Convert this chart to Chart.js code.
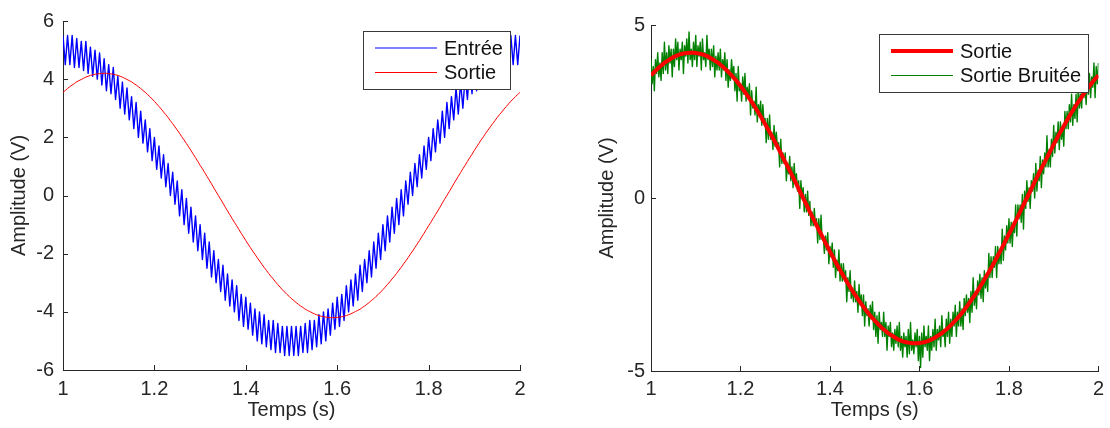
<!DOCTYPE html>
<html>
<head>
<meta charset="utf-8">
<script src="https://cdn.jsdelivr.net/npm/chart.js@4/dist/chart.umd.min.js"></script>
<style>
html, body { margin: 0; padding: 0; background: #fff; }
#wrap { position: relative; width: 1110px; height: 428px; }
canvas { position: absolute; top: 0; }
#gauche { left: 0; }
#droite { left: 580px; }
</style>
</head>
<body>
<div id="wrap">
<canvas id="gauche" width="580" height="428"></canvas>
<canvas id="droite" width="530" height="428"></canvas>
</div>
<script>
// temps (s)
const temps = [
1,1.005,1.01,1.015,1.02,1.025,1.03,1.035,1.04,1.045,1.05,1.055,1.06,1.065,1.07,1.075,1.08,1.085,1.09,1.095,
1.1,1.105,1.11,1.115,1.12,1.125,1.13,1.135,1.14,1.145,1.15,1.155,1.16,1.165,1.17,1.175,1.18,1.185,1.19,1.195,
1.2,1.205,1.21,1.215,1.22,1.225,1.23,1.235,1.24,1.245,1.25,1.255,1.26,1.265,1.27,1.275,1.28,1.285,1.29,1.295,
1.3,1.305,1.31,1.315,1.32,1.325,1.33,1.335,1.34,1.345,1.35,1.355,1.36,1.365,1.37,1.375,1.38,1.385,1.39,1.395,
1.4,1.405,1.41,1.415,1.42,1.425,1.43,1.435,1.44,1.445,1.45,1.455,1.46,1.465,1.47,1.475,1.48,1.485,1.49,1.495,
1.5,1.505,1.51,1.515,1.52,1.525,1.53,1.535,1.54,1.545,1.55,1.555,1.56,1.565,1.57,1.575,1.58,1.585,1.59,1.595,
1.6,1.605,1.61,1.615,1.62,1.625,1.63,1.635,1.64,1.645,1.65,1.655,1.66,1.665,1.67,1.675,1.68,1.685,1.69,1.695,
1.7,1.705,1.71,1.715,1.72,1.725,1.73,1.735,1.74,1.745,1.75,1.755,1.76,1.765,1.77,1.775,1.78,1.785,1.79,1.795,
1.8,1.805,1.81,1.815,1.82,1.825,1.83,1.835,1.84,1.845,1.85,1.855,1.86,1.865,1.87,1.875,1.88,1.885,1.89,1.895,
1.9,1.905,1.91,1.915,1.92,1.925,1.93,1.935,1.94,1.945,1.95,1.955,1.96,1.965,1.97,1.975,1.98,1.985,1.99,1.995,
2
];

// temps (s) du signal bruité, échantillonné plus finement
const tempsBruit = [
1,1.0025,1.005,1.0075,1.01,1.0125,1.015,1.0175,1.02,1.0225,1.025,1.0275,1.03,1.0325,1.035,1.0375,1.04,1.0425,1.045,1.0475,
1.05,1.0525,1.055,1.0575,1.06,1.0625,1.065,1.0675,1.07,1.0725,1.075,1.0775,1.08,1.0825,1.085,1.0875,1.09,1.0925,1.095,1.0975,
1.1,1.1025,1.105,1.1075,1.11,1.1125,1.115,1.1175,1.12,1.1225,1.125,1.1275,1.13,1.1325,1.135,1.1375,1.14,1.1425,1.145,1.1475,
1.15,1.1525,1.155,1.1575,1.16,1.1625,1.165,1.1675,1.17,1.1725,1.175,1.1775,1.18,1.1825,1.185,1.1875,1.19,1.1925,1.195,1.1975,
1.2,1.2025,1.205,1.2075,1.21,1.2125,1.215,1.2175,1.22,1.2225,1.225,1.2275,1.23,1.2325,1.235,1.2375,1.24,1.2425,1.245,1.2475,
1.25,1.2525,1.255,1.2575,1.26,1.2625,1.265,1.2675,1.27,1.2725,1.275,1.2775,1.28,1.2825,1.285,1.2875,1.29,1.2925,1.295,1.2975,
1.3,1.3025,1.305,1.3075,1.31,1.3125,1.315,1.3175,1.32,1.3225,1.325,1.3275,1.33,1.3325,1.335,1.3375,1.34,1.3425,1.345,1.3475,
1.35,1.3525,1.355,1.3575,1.36,1.3625,1.365,1.3675,1.37,1.3725,1.375,1.3775,1.38,1.3825,1.385,1.3875,1.39,1.3925,1.395,1.3975,
1.4,1.4025,1.405,1.4075,1.41,1.4125,1.415,1.4175,1.42,1.4225,1.425,1.4275,1.43,1.4325,1.435,1.4375,1.44,1.4425,1.445,1.4475,
1.45,1.4525,1.455,1.4575,1.46,1.4625,1.465,1.4675,1.47,1.4725,1.475,1.4775,1.48,1.4825,1.485,1.4875,1.49,1.4925,1.495,1.4975,
1.5,1.5025,1.505,1.5075,1.51,1.5125,1.515,1.5175,1.52,1.5225,1.525,1.5275,1.53,1.5325,1.535,1.5375,1.54,1.5425,1.545,1.5475,
1.55,1.5525,1.555,1.5575,1.56,1.5625,1.565,1.5675,1.57,1.5725,1.575,1.5775,1.58,1.5825,1.585,1.5875,1.59,1.5925,1.595,1.5975,
1.6,1.6025,1.605,1.6075,1.61,1.6125,1.615,1.6175,1.62,1.6225,1.625,1.6275,1.63,1.6325,1.635,1.6375,1.64,1.6425,1.645,1.6475,
1.65,1.6525,1.655,1.6575,1.66,1.6625,1.665,1.6675,1.67,1.6725,1.675,1.6775,1.68,1.6825,1.685,1.6875,1.69,1.6925,1.695,1.6975,
1.7,1.7025,1.705,1.7075,1.71,1.7125,1.715,1.7175,1.72,1.7225,1.725,1.7275,1.73,1.7325,1.735,1.7375,1.74,1.7425,1.745,1.7475,
1.75,1.7525,1.755,1.7575,1.76,1.7625,1.765,1.7675,1.77,1.7725,1.775,1.7775,1.78,1.7825,1.785,1.7875,1.79,1.7925,1.795,1.7975,
1.8,1.8025,1.805,1.8075,1.81,1.8125,1.815,1.8175,1.82,1.8225,1.825,1.8275,1.83,1.8325,1.835,1.8375,1.84,1.8425,1.845,1.8475,
1.85,1.8525,1.855,1.8575,1.86,1.8625,1.865,1.8675,1.87,1.8725,1.875,1.8775,1.88,1.8825,1.885,1.8875,1.89,1.8925,1.895,1.8975,
1.9,1.9025,1.905,1.9075,1.91,1.9125,1.915,1.9175,1.92,1.9225,1.925,1.9275,1.93,1.9325,1.935,1.9375,1.94,1.9425,1.945,1.9475,
1.95,1.9525,1.955,1.9575,1.96,1.9625,1.965,1.9675,1.97,1.9725,1.975,1.9775,1.98,1.9825,1.985,1.9875,1.99,1.9925,1.995,1.9975,
2
];

// Entrée (V), sommets et creux de l'ondulation
const entree = [
5.5,4.5,5.5,4.5,5.5,4.4,5.4,4.4,5.3,4.3,
5.3,4.2,5.1,4.1,5.0,4.0,4.9,3.8,4.7,3.6,
4.5,3.5,4.4,3.3,4.1,3.0,3.9,2.8,3.7,2.6,
3.4,2.3,3.2,2.0,2.9,1.8,2.6,1.5,2.3,1.2,
2.0,0.9,1.7,0.6,1.4,0.3,1.1,0.0,0.8,-0.3,
0.5,-0.7,0.2,-1.0,-0.1,-1.3,-0.4,-1.6,-0.7,-1.9,
-1.0,-2.2,-1.3,-2.5,-1.6,-2.8,-1.9,-3.0,-2.2,-3.3,
-2.4,-3.6,-2.7,-3.8,-2.9,-4.0,-3.1,-4.3,-3.4,-4.5,
-3.5,-4.6,-3.7,-4.8,-3.9,-5.0,-4.0,-5.1,-4.1,-5.2,
-4.3,-5.3,-4.3,-5.4,-4.4,-5.4,-4.5,-5.5,-4.5,-5.5,
-4.5,
-5.5,-4.5,-5.5,-4.5,-5.4,-4.4,-5.4,-4.3,-5.3,-4.3,
-5.2,-4.1,-5.1,-4.0,-5.0,-3.9,-4.8,-3.7,-4.6,-3.5,
-4.5,-3.4,-4.3,-3.1,-4.0,-2.9,-3.8,-2.7,-3.6,-2.4,
-3.3,-2.2,-3.0,-1.9,-2.8,-1.6,-2.5,-1.3,-2.2,-1.0,
-1.9,-0.7,-1.6,-0.4,-1.3,-0.1,-1.0,0.2,-0.7,0.5,
-0.3,0.8,0.0,1.1,0.3,1.4,0.6,1.7,0.9,2.0,
1.2,2.3,1.5,2.6,1.8,2.9,2.0,3.2,2.3,3.4,
2.6,3.7,2.8,3.9,3.0,4.1,3.3,4.4,3.5,4.5,
3.6,4.7,3.8,4.9,4.0,5.0,4.1,5.1,4.2,5.3,
4.3,5.3,4.4,5.4,4.4,5.5,4.5,5.5,4.5,5.5
];

// Sortie (V)
const sortie = [
3.55,3.61,3.68,3.74,3.80,3.85,3.91,3.95,3.99,4.03,
4.07,4.10,4.13,4.15,4.17,4.18,4.19,4.20,4.20,4.20,
4.19,4.18,4.17,4.15,4.13,4.10,4.07,4.03,3.99,3.95,
3.91,3.85,3.80,3.74,3.68,3.61,3.55,3.47,3.40,3.32,
3.24,3.15,3.06,2.97,2.87,2.78,2.68,2.57,2.47,2.36,
2.25,2.14,2.02,1.91,1.79,1.67,1.55,1.42,1.30,1.17,
1.04,0.92,0.79,0.66,0.53,0.40,0.26,0.13,0,-0.13,
-0.26,-0.40,-0.53,-0.66,-0.79,-0.92,-1.04,-1.17,-1.30,-1.42,
-1.55,-1.67,-1.79,-1.91,-2.02,-2.14,-2.25,-2.36,-2.47,-2.57,
-2.68,-2.78,-2.87,-2.97,-3.06,-3.15,-3.24,-3.32,-3.40,-3.47,
-3.55,-3.61,-3.68,-3.74,-3.80,-3.85,-3.91,-3.95,-3.99,-4.03,
-4.07,-4.10,-4.13,-4.15,-4.17,-4.18,-4.19,-4.20,-4.20,-4.20,
-4.19,-4.18,-4.17,-4.15,-4.13,-4.10,-4.07,-4.03,-3.99,-3.95,
-3.91,-3.85,-3.80,-3.74,-3.68,-3.61,-3.55,-3.47,-3.40,-3.32,
-3.24,-3.15,-3.06,-2.97,-2.87,-2.78,-2.68,-2.57,-2.47,-2.36,
-2.25,-2.14,-2.02,-1.91,-1.79,-1.67,-1.55,-1.42,-1.30,-1.17,
-1.04,-0.92,-0.79,-0.66,-0.53,-0.40,-0.26,-0.13,0,0.13,
0.26,0.40,0.53,0.66,0.79,0.92,1.04,1.17,1.30,1.42,
1.55,1.67,1.79,1.91,2.02,2.14,2.25,2.36,2.47,2.57,
2.68,2.78,2.87,2.97,3.06,3.15,3.24,3.32,3.40,3.47,
3.55
];

// Sortie Bruitée (V), relevée sur tempsBruit
const sortieBruitee = [
4.0,3.3,3.8,3.1,4.0,3.6,4.2,3.5,3.9,3.4,4.2,3.6,4.5,3.7,4.2,3.6,4.4,3.9,4.3,3.5,
4.3,3.8,4.6,4.0,4.5,3.7,4.3,4.0,4.5,3.6,4.4,4.1,4.6,3.9,4.8,4.0,4.3,3.8,4.5,4.0,
4.7,3.8,4.4,4.1,4.5,3.7,4.6,4.0,4.2,3.8,4.7,4.0,4.3,3.7,4.3,3.8,4.4,3.5,4.1,3.7,
4.2,3.7,4.3,3.5,4.0,3.7,4.2,3.4,4.0,3.2,3.7,3.4,4.0,3.5,3.8,3.1,3.6,2.8,3.8,3.1,
3.3,2.8,3.5,3.0,3.6,2.8,3.2,2.9,3.3,2.4,3.1,2.6,2.8,2.4,3.2,2.2,2.7,2.4,2.8,2.1,
2.7,2.2,2.3,1.6,2.3,1.7,2.4,1.7,1.9,1.4,2.1,1.5,1.9,1.5,1.6,0.9,1.7,1.0,1.3,1.0,
1.3,0.5,1.0,0.7,1.2,0.5,0.9,0.3,1.0,0.4,0.7,0.2,0.5,-0.3,0.5,0.0,0.3,-0.4,0.1,-0.4,
0.2,-0.5,-0.1,-0.8,-0.4,-0.8,-0.3,-0.8,-0.6,-1.3,-0.6,-1.2,-0.5,-1.2,-1.1,-1.6,-1.1,-1.5,-1.0,-1.9,
-1.4,-1.7,-1.3,-2.0,-1.5,-2.3,-1.8,-2.1,-1.5,-2.4,-1.9,-2.4,-1.9,-2.4,-2.1,-3.0,-2.3,-2.7,-2.1,-2.9,
-2.6,-3.0,-2.4,-3.0,-2.7,-3.3,-2.5,-3.1,-2.8,-3.4,-2.8,-3.7,-3.0,-3.4,-3.2,-3.7,-3.1,-3.5,-3.0,-3.8,
-3.3,-4.0,-3.4,-4.2,-3.3,-3.8,-3.6,-4.0,-3.3,-4.0,-3.6,-4.4,-3.7,-4.0,-3.6,-4.3,-3.9,-4.4,-3.8,-4.2,
-3.7,-4.3,-3.6,-4.4,-4.0,-4.6,-3.9,-4.3,-4.0,-4.6,-3.8,-4.5,-3.6,-4.4,-4.1,-4.5,-3.9,-4.3,-3.8,-4.7,
-4.0,-4.9,-3.9,-4.6,-3.7,-4.3,-4.0,-4.4,-3.7,-4.7,-4.0,-4.4,-3.8,-4.3,-3.5,-4.4,-3.8,-4.1,-3.7,-4.3,
-3.4,-4.0,-3.8,-4.3,-3.5,-4.0,-3.3,-4.2,-3.5,-4.0,-3.3,-3.7,-3.1,-4.0,-3.3,-3.7,-3.0,-3.7,-3.2,-3.8,
-2.9,-3.4,-2.8,-3.3,-2.9,-3.6,-2.7,-3.3,-2.3,-3.1,-2.7,-3.2,-2.4,-2.8,-2.2,-2.9,-2.3,-3.0,-2.1,-2.6,
-2.2,-2.7,-1.6,-2.3,-1.7,-2.3,-1.7,-2.0,-1.4,-2.3,-1.4,-1.9,-1.5,-1.9,-0.9,-1.8,-1.1,-1.5,-0.8,-1.3,
-0.6,-1.3,-0.7,-1.4,-0.7,-1.0,-0.2,-1.1,-0.2,-0.6,-0.2,-0.7,0.1,-0.9,0.2,-0.3,0.5,-0.1,0.3,-0.3,
0.5,0.2,0.7,0.0,1.0,0.2,0.8,0.5,1.2,0.3,1.1,0.7,1.3,0.9,1.8,0.9,1.4,0.9,1.7,1.2,
2.1,1.3,1.9,1.6,2.2,1.4,2.2,1.7,2.1,1.5,2.5,2.0,2.5,2.0,2.7,2.2,3.0,2.1,2.7,2.3,
3.0,2.2,3.2,2.6,3.0,2.6,3.5,2.9,3.3,2.7,3.5,3.0,3.6,2.9,3.5,3.2,3.9,2.9,3.8,3.3,
3.9
];

const xTicks = [1, 1.2, 1.4, 1.6, 1.8, 2];
const yTicksGauche = [-6, -4, -2, 0, 2, 4, 6];
const yTicksDroite = [-5, 0, 5];

const FONT = "'Liberation Sans', Arial, Helvetica, sans-serif";
const INK = '#262626';
Chart.defaults.font.family = FONT;
Chart.defaults.font.size = 20;
Chart.defaults.color = INK;

// petites graduations vers l'intérieur, comme sous Matlab
const tickMarks = {
  id: 'tickMarks',
  afterDraw(chart) {
    const { ctx, chartArea: a, scales: { x, y } } = chart;
    ctx.save();
    ctx.strokeStyle = INK;
    ctx.lineWidth = 1;
    ctx.beginPath();
    x.ticks.forEach(t => {
      const px = Math.round(x.getPixelForValue(t.value)) + 0.5;
      ctx.moveTo(px, a.bottom);
      ctx.lineTo(px, a.bottom - 5);
    });
    y.ticks.forEach(t => {
      const py = Math.round(y.getPixelForValue(t.value)) + 0.5;
      ctx.moveTo(a.left, py);
      ctx.lineTo(a.left + 5, py);
    });
    ctx.stroke();
    ctx.restore();
  }
};

// légende encadrée en haut à droite
const boxLegend = {
  id: 'boxLegend',
  afterDraw(chart, args, opts) {
    const { ctx, chartArea: a } = chart;
    const items = chart.data.datasets;
    ctx.save();
    ctx.font = '20px ' + FONT;
    const textW = Math.max(...items.map(d => ctx.measureText(d.label).width));
    const w = Math.round(81 + textW + 7), h = 58;
    const x0 = Math.round(a.right - opts.right - w), y0 = Math.round(a.top + opts.top);
    ctx.fillStyle = '#fff';
    ctx.fillRect(x0, y0, w, h);
    ctx.strokeStyle = '#3a3a3a';
    ctx.lineWidth = 1;
    ctx.strokeRect(x0 + 0.5, y0 + 0.5, w, h);
    items.forEach((d, i) => {
      const ly = y0 + 17 + i * 24.5;
      ctx.strokeStyle = d.borderColor;
      ctx.lineWidth = d.borderWidth > 2 ? d.borderWidth : 1;
      ctx.beginPath();
      ctx.moveTo(x0 + 12, ly);
      ctx.lineTo(x0 + 74, ly);
      ctx.stroke();
      ctx.fillStyle = '#111';
      ctx.textBaseline = 'middle';
      ctx.fillText(d.label, x0 + 81, ly + 1);
    });
    ctx.restore();
  }
};

function axes(yMin, yMax, yTicks, yWidth, xHeight, yTitlePad, yLabelPad, xLabelPad) {
  return {
    x: {
      type: 'linear', min: 1, max: 2,
      afterBuildTicks: s => { s.ticks = xTicks.map(v => ({ value: v })); },
      afterFit: s => { s.height = xHeight; },
      grid: { display: false, drawTicks: false },
      border: { display: true, color: INK, width: 1 },
      ticks: { padding: xLabelPad, color: INK, maxRotation: 0, callback: v => String(v) },
      title: { display: true, text: 'Temps (s)', color: INK, padding: { top: 0, bottom: 6 } }
    },
    y: {
      type: 'linear', min: yMin, max: yMax,
      afterBuildTicks: s => { s.ticks = yTicks.map(v => ({ value: v })); },
      afterFit: s => { s.width = yWidth; },
      grid: { display: false, drawTicks: false },
      border: { display: true, color: INK, width: 1 },
      ticks: { padding: yLabelPad, color: INK, callback: v => String(v) },
      title: { display: true, text: 'Amplitude (V)', color: INK, padding: { top: yTitlePad, bottom: 0 } }
    }
  };
}

new Chart(document.getElementById('gauche'), {
  type: 'line',
  data: {
    labels: temps,
    datasets: [
      { label: 'Entrée', data: entree, borderColor: '#0000ff', borderWidth: 1.4, order: 1 },
      { label: 'Sortie', data: sortie, borderColor: '#ff0000', borderWidth: 1, order: 0 }
    ]
  },
  options: {
    responsive: false,
    animation: false,
    devicePixelRatio: 1,
    layout: { padding: { top: 18, right: 60, left: 0, bottom: 0 } },
    elements: { point: { radius: 0 }, line: { tension: 0, borderJoinStyle: 'round' } },
    scales: axes(-6, 6, yTicksGauche, 63, 58, 7.5, 9, 7),
    plugins: {
      legend: { display: false },
      tooltip: { enabled: false },
      boxLegend: { right: 10, top: 10 }
    }
  },
  plugins: [tickMarks, boxLegend]
});

new Chart(document.getElementById('droite'), {
  type: 'line',
  data: {
    labels: temps,
    datasets: [
      { label: 'Sortie', data: sortie, borderColor: '#ff0000', borderWidth: 4 },
      {
        label: 'Sortie Bruitée',
        data: tempsBruit.map((t, i) => ({ x: t, y: sortieBruitee[i] })),
        borderColor: '#008000', borderWidth: 1.4
      }
    ]
  },
  options: {
    responsive: false,
    animation: false,
    devicePixelRatio: 1,
    layout: { padding: { top: 25, right: 10, left: 0, bottom: 0 } },
    elements: { point: { radius: 0 }, line: { tension: 0, borderJoinStyle: 'round' } },
    scales: axes(-5, 5, yTicksDroite, 71, 57, 15.5, 6, 6),
    plugins: {
      legend: { display: false },
      tooltip: { enabled: false },
      boxLegend: { right: 10, top: 9 }
    }
  },
  plugins: [tickMarks, boxLegend]
});
</script>
</body>
</html>
